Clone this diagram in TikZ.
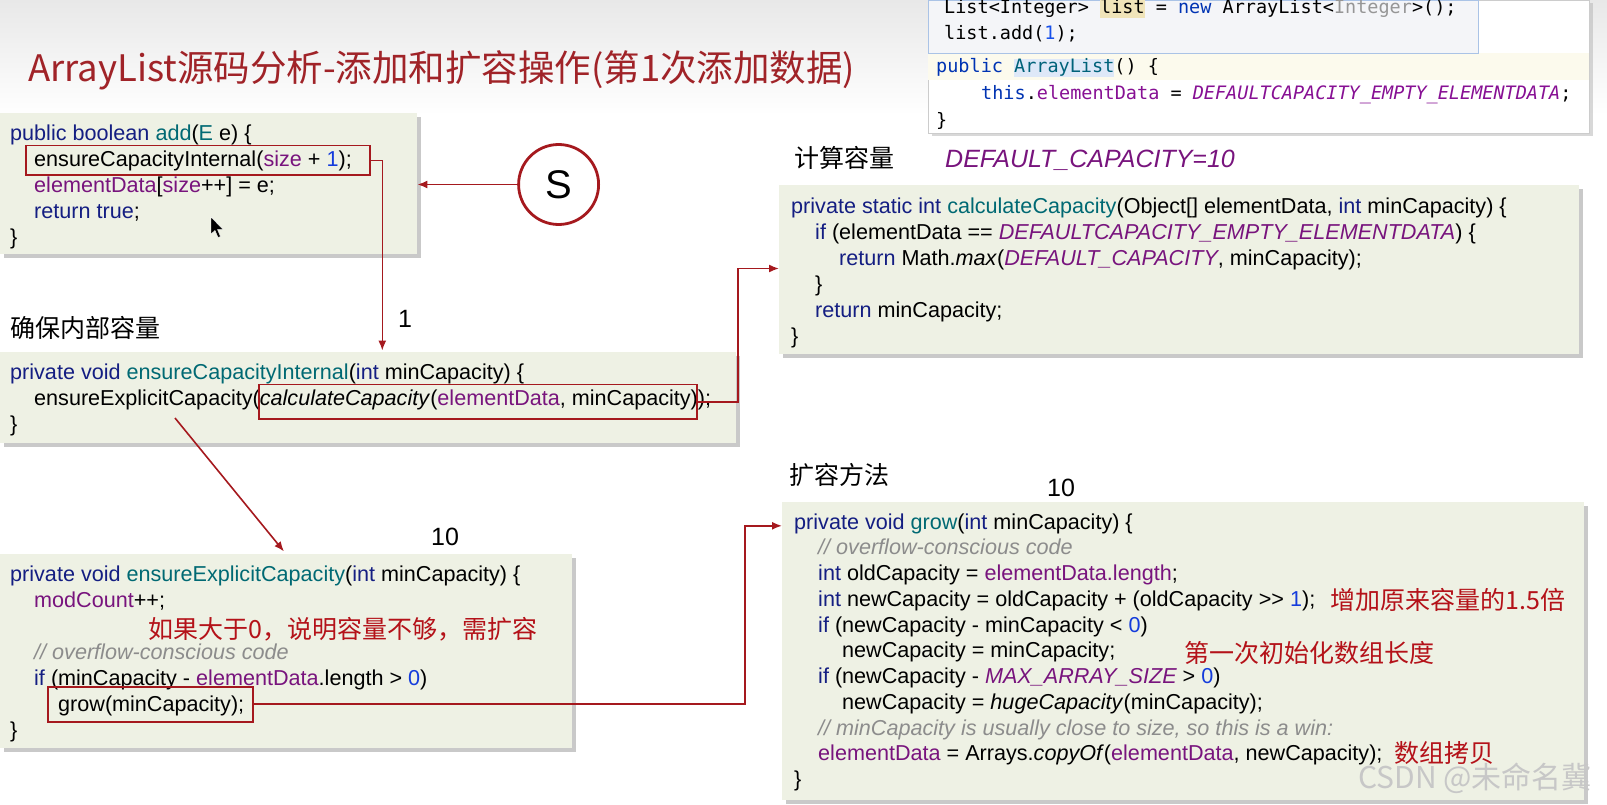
\documentclass[tikz,border=0pt]{standalone}
\usepackage{fontspec}
\setmainfont{Liberation Sans}
\newfontfamily\cjkf{Noto Sans CJK SC}
\newfontfamily\monof{DejaVu Sans Mono}
\usetikzlibrary{arrows.meta,shadows}
\definecolor{boxfill}{RGB}{238,241,228}
\definecolor{kwc}{RGB}{20,30,130}
\definecolor{fnc}{RGB}{0,105,115}
\definecolor{fdc}{RGB}{120,20,125}
\definecolor{numc}{RGB}{20,60,220}
\definecolor{cmc}{RGB}{140,140,140}
\definecolor{dred}{RGB}{165,25,30}
\definecolor{titlered}{RGB}{160,35,40}
\definecolor{annred}{RGB}{180,18,25}
\definecolor{jkw}{RGB}{0,51,179}
\definecolor{jfn}{RGB}{0,98,122}
\definecolor{jfd}{RGB}{135,16,148}
\definecolor{jnum}{RGB}{23,80,235}
\definecolor{jgray}{RGB}{150,150,150}
\definecolor{hlyel}{RGB}{240,228,185}
\definecolor{hlblue}{RGB}{222,232,248}
\definecolor{popfill}{RGB}{244,245,248}
\definecolor{popline}{RGB}{170,195,230}
\definecolor{curline}{RGB}{252,250,237}
\newcommand{\ckw}[1]{\textcolor{kwc}{#1}}
\newcommand{\cfn}[1]{\textcolor{fnc}{#1}}
\newcommand{\cfd}[1]{\textcolor{fdc}{#1}}
\newcommand{\cnum}[1]{\textcolor{numc}{#1}}
\newcommand{\ccm}[1]{\textcolor{cmc}{\itshape #1}}
\newcommand{\chl}[2]{{\setlength{\fboxsep}{0pt}\colorbox{#1}{\rule[-0.22em]{0pt}{1.0em}#2}}}
\newcommand{\codesize}{\fontsize{21.6}{26}\selectfont}
\tikzset{
  codebox/.style={fill=boxfill, draw=none, inner sep=0pt, anchor=north west,
    drop shadow={shadow xshift=4pt, shadow yshift=-4pt, fill=black!35, opacity=0.6}},
  ln/.style={anchor=base west, inner sep=0pt, font=\codesize, yshift=-1.5pt},
  mono/.style={anchor=base west, inner sep=0pt, font=\monof\fontsize{18.5}{22}\selectfont},
  redbox/.style={draw=dred, line width=1.8pt, inner sep=0pt},
  conn/.style={draw=dred, line width=1.6pt, -{Latex[length=10pt,width=8pt]}},
  cjklabel/.style={anchor=west, inner sep=0pt, font=\cjkf\fontsize{25}{25}\selectfont},
  ann/.style={anchor=west, inner sep=0pt, text=annred, font=\cjkf\fontsize{25}{25}\selectfont},
  numlabel/.style={inner sep=0pt, font=\fontsize{25}{25}\selectfont}
}
\begin{document}
\begin{tikzpicture}[x=1pt,y=-1pt]
\useasboundingbox (0,0) rectangle (1607,805);
\fill[white] (0,0) rectangle (1607,805);
\shade[top color=black!9, bottom color=white] (0,0) rectangle (1607,115);

% title
\node[anchor=west, inner sep=0pt, text=titlered, font=\cjkf\fontsize{36.5}{36.5}\selectfont] (title) at (28,70) {ArrayList源码分析-添加和扩容操作(第1次添加数据)};

% top-right snippet
\node[anchor=north west, minimum width=661pt, minimum height=133pt, fill=white, draw=black!20, line width=0.6pt, inner sep=0pt,
  drop shadow={shadow xshift=4pt, shadow yshift=-3pt, fill=black!30, opacity=0.5}] (snip) at (927.6,0) {};
\fill[curline] (928,53.3) rectangle (1588.5,80);
\node[anchor=north west, minimum width=550.4pt, minimum height=53.3pt, fill=popfill, draw=popline, line width=0.8pt, inner sep=0pt] (pop) at (927.6,0) {};
\node[mono] (m1) at (944,14) {List<Integer> \chl{hlyel}{list} = \textcolor{jkw}{new} ArrayList<\textcolor{jgray}{Integer}>();};
\node[mono] (m2) at (944,40) {list.add(\textcolor{jnum}{1});};
\node[mono] (m3) at (936,73) {\textcolor{jkw}{public} \chl{hlblue}{\textcolor{jfn}{ArrayList}}() \{};
\node[mono] (m4) at (981,100) {\textcolor{jkw}{this}.\textcolor{jfd}{elementData} = \textcolor{jfd}{\itshape DEFAULTCAPACITY\_EMPTY\_ELEMENTDATA};};
\node[mono] (m5) at (936,127) {\}};

% boxes
\node[codebox, minimum width=417pt, minimum height=141pt] (A) at (0,113) {};
\node[codebox, minimum width=736pt, minimum height=91.2pt] (B) at (0,351.6) {};
\node[codebox, minimum width=799.5pt, minimum height=169pt] (C) at (779,184.5) {};
\node[codebox, minimum width=572pt, minimum height=194.5pt] (D) at (0,553.5) {};
\node[codebox, minimum width=801.6pt, minimum height=297.5pt] (E) at (782,502) {};

% box A
\node[ln] (a1) at (10,139) {\ckw{public boolean} \cfn{add}(\cfn{E} e) \{};
\node[ln] (a2) at (34,165) {ensureCapacityInternal(\cfd{size} + \cnum{1});};
\node[ln] (a3) at (34,191) {\cfd{elementData}[\cfd{size}++] = e;};
\node[ln] (a4) at (34,217) {\ckw{return true};};
\node[ln] (a5) at (10,243) {\}};
\node[redbox, minimum width=344.4pt, minimum height=29.8pt] (rA) at (197.8,160.4) {};
% cursor
\filldraw[black, draw=white, line width=0.4pt] (211,217) -- (211,234) -- (215,230.5) -- (218,237.5) -- (220.5,236.5) -- (217.5,229.5) -- (223,229.5) -- cycle;

% circle S
\node[circle, draw=dred, line width=2.8pt, fill=white, minimum size=80pt, inner sep=0pt, font=\fontsize{40}{40}\selectfont] (S) at (558.6,184.5) {S};

% box B
\node[cjklabel] (lb) at (10,328) {确保内部容量};
\node[numlabel] (n1) at (405,319) {1};
\node[ln] (b1) at (10,378) {\ckw{private void} \cfn{ensureCapacityInternal}(\ckw{int} minCapacity) \{};
\node[ln] (b2) at (34,404) {ensureExplicitCapacity(\textit{calculateCapacity}(\cfd{elementData}, minCapacity));};
\node[ln] (b3) at (10,430) {\}};
\node[redbox, minimum width=437.7pt, minimum height=34.8pt] (rB) at (478.1,401.8) {};

% box C
\node[cjklabel] (lc) at (794,158) {计算容量};
\node[anchor=west, inner sep=0pt, text=fdc, font=\fontsize{25}{25}\selectfont\itshape] (dc) at (945,160) {DEFAULT\_CAPACITY=10};
\node[ln] (c1) at (791,212) {\ckw{private static int} \cfn{calculateCapacity}(Object[] elementData, \ckw{int} minCapacity) \{};
\node[ln] (c2) at (815,238) {\ckw{if} (elementData == \cfd{\itshape DEFAULTCAPACITY\_EMPTY\_ELEMENTDATA}) \{};
\node[ln] (c3) at (839,264) {\ckw{return} Math.\textit{max}(\cfd{\itshape DEFAULT\_CAPACITY}, minCapacity);};
\node[ln] (c4) at (815,290) {\}};
\node[ln] (c5) at (815,316) {\ckw{return} minCapacity;};
\node[ln] (c6) at (791,342) {\}};

% box D
\node[numlabel] (n10a) at (445,537) {10};
\node[ln] (d1) at (10,580) {\ckw{private void} \cfn{ensureExplicitCapacity}(\ckw{int} minCapacity) \{};
\node[ln] (d2) at (34,606) {\cfd{modCount}++;};
\node[ln] (d3) at (34,658) {\ccm{// overflow-conscious code}};
\node[ln] (d4) at (34,684) {\ckw{if} (minCapacity - \cfd{elementData}.length > \cnum{0})};
\node[ln] (d5) at (58,710) {grow(minCapacity);};
\node[ln] (d6) at (10,736) {\}};
\node[ann] (annD) at (148.6,629.3) {如果大于0，说明容量不够，需扩容};
\node[redbox, minimum width=205pt, minimum height=34.8pt] (rD) at (150.7,704.2) {};

% box E
\node[cjklabel] (le) at (789,474.6) {扩容方法};
\node[numlabel] (n10b) at (1061,488) {10};
\node[ln] (e1) at (794,527.5) {\ckw{private void} \cfn{grow}(\ckw{int} minCapacity) \{};
\node[ln] (e2) at (818,553.3) {\ccm{// overflow-conscious code}};
\node[ln] (e3) at (818,579) {\ckw{int} oldCapacity = \cfd{elementData.length};};
\node[ln] (e4) at (818,604.8) {\ckw{int} newCapacity = oldCapacity + (oldCapacity >{}> \cnum{1});};
\node[ln] (e5) at (818,630.5) {\ckw{if} (newCapacity - minCapacity < \cnum{0})};
\node[ln] (e6) at (842,656.3) {newCapacity = minCapacity;};
\node[ln] (e7) at (818,682) {\ckw{if} (newCapacity - \cfd{\itshape MAX\_ARRAY\_SIZE} > \cnum{0})};
\node[ln] (e8) at (842,707.8) {newCapacity = \textit{hugeCapacity}(minCapacity);};
\node[ln] (e9) at (818,733.5) {\ccm{// minCapacity is usually close to size, so this is a win:}};
\node[ln] (e10) at (818,759.3) {\cfd{elementData} = Arrays.\textit{copyOf}(\cfd{elementData}, newCapacity);};
\node[ln] (e11) at (794,785) {\}};
\node[ann] (annE1) at (1330.5,599.6) {增加原来容量的1.5倍};
\node[ann] (annE2) at (1184,652.9) {第一次初始化数组长度};
\node[ann] (annE3) at (1394,753.4) {数组拷贝};

% watermark
\node[anchor=west, inner sep=0pt, text=black!22, font=\cjkf\fontsize{30}{30}\selectfont] (wm) at (1358,778) {CSDN @未命名冀};

% connectors
\draw[conn] (S.west) -- (S.west -| A.east);
\draw[conn] (rA.east) -| ([xshift=382.3pt,yshift=1pt]B.north west);
\coordinate (kC) at (738,268.5);
\draw[conn] (rB.east) -| (kC) -- (kC -| C.west);
\coordinate (dS) at (175,418);
\draw[conn] (dS) -- ([xshift=284pt,yshift=2pt]D.north west);
\coordinate (kE) at (745,525.8);
\draw[conn] (rD.east) -| (kE) -- (kE -| E.west);
\end{tikzpicture}
\end{document}
